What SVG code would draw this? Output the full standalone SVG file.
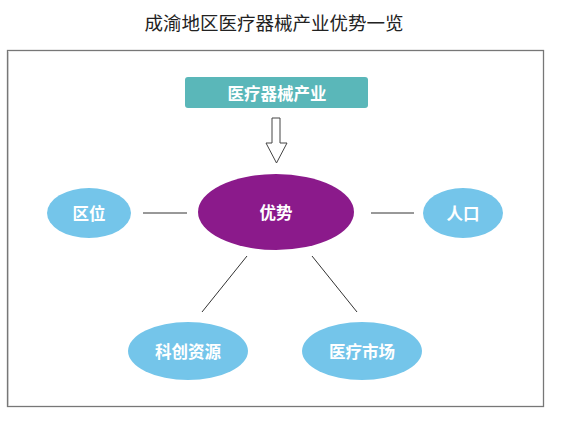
<svg xmlns="http://www.w3.org/2000/svg" width="572" height="442" viewBox="0 0 572 442">
<style>
text{font-family:"Noto Sans CJK SC","Noto Sans",sans-serif;text-anchor:middle;dominant-baseline:central}
.lbl{fill:#ffffff;font-size:16.5px;font-weight:bold}
.blue{fill:#74c5ea}
.ln{stroke:#333;stroke-width:1;fill:none}
</style>
<rect width="572" height="442" fill="#ffffff"/>
<text x="274" y="22" font-size="18.5" fill="#222">成渝地区医疗器械产业优势一览</text>
<rect x="7.5" y="50.5" width="536" height="356" fill="#fff" stroke="#777" stroke-width="1.3"/>
<line x1="8.5" y1="52" x2="8.5" y2="406" stroke="#ccc" stroke-width="1"/>
<g id="connectors">
<line class="ln" x1="143" y1="213" x2="187" y2="213"/>
<line class="ln" x1="371" y1="213" x2="414" y2="213"/>
<line class="ln" x1="247" y1="256" x2="202" y2="312"/>
<line class="ln" x1="312" y1="256" x2="357" y2="312"/>
<path d="M272 118 H280 V143 H287 L276.5 163 L266 143 H272 Z" fill="#fff" stroke="#444" stroke-width="1"/>
</g>
<g id="industry">
<rect x="185" y="77" width="183" height="31" rx="3" fill="#5ab7b9"/>
<text class="lbl" x="277" y="93">医疗器械产业</text>
</g>
<g id="advantage">
<ellipse cx="276" cy="212" rx="78" ry="38" fill="#8b1a8b"/>
<text class="lbl" x="276" y="212">优势</text>
</g>
<g id="location">
<ellipse class="blue" cx="89" cy="213" rx="42" ry="25"/>
<text class="lbl" x="89" y="213">区位</text>
</g>
<g id="population">
<ellipse class="blue" cx="463" cy="213" rx="40" ry="25"/>
<text class="lbl" x="463" y="213">人口</text>
</g>
<g id="innovation">
<ellipse class="blue" cx="188" cy="351" rx="60" ry="29"/>
<text class="lbl" x="188" y="351">科创资源</text>
</g>
<g id="market">
<ellipse class="blue" cx="362" cy="351" rx="60" ry="29"/>
<text class="lbl" x="362" y="351">医疗市场</text>
</g>
</svg>
